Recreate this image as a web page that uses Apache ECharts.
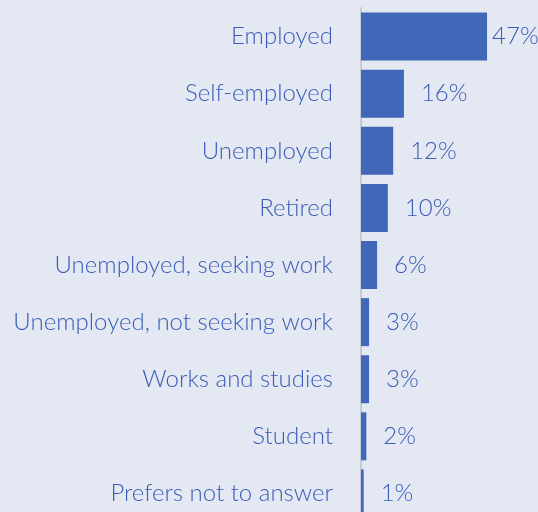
<!DOCTYPE html>
<html>
<head>
<meta charset="utf-8">
<script src="https://cdn.jsdelivr.net/npm/echarts@6/dist/echarts.min.js"></script>
<style>
  html, body { margin: 0; padding: 0; background: #e3e8f3; overflow: hidden; }
  #chart { width: 538px; height: 522px; }
</style>
</head>
<body>
<div id="chart"></div>
<script>
// Employment status categories, top to bottom
const categories = [
  'Employed',
  'Self-employed',
  'Unemployed',
  'Retired',
  'Unemployed, seeking work',
  'Unemployed, not seeking work',
  'Works and studies',
  'Student',
  'Prefers not to answer'
];
// Share of respondents (%)
const shares = [47, 16, 12, 10, 6, 3, 3, 2, 1];

const barColor = '#4167b9';
const textColor = '#3a5cb6';
const fontFamily = 'Lato, "Open Sans", sans-serif';

const chart = echarts.init(document.getElementById('chart'));
chart.setOption({
  backgroundColor: '#e3e8f3',
  animation: false,
  grid: { left: 361, right: 0, top: 8, bottom: 0, containLabel: false },
  xAxis: {
    type: 'value',
    min: 0,
    max: 66,
    show: false
  },
  yAxis: {
    type: 'category',
    data: categories,
    inverse: true,
    axisLine: { show: true, lineStyle: { color: '#c5cad3', width: 2 } },
    axisTick: { show: false },
    axisLabel: {
      color: textColor,
      fontFamily: fontFamily,
      fontWeight: 300,
      fontSize: 24,
      margin: 28
    }
  },
  series: [{
    type: 'bar',
    data: shares.map((v, i) => ({
      value: v,
      label: { distance: i === 0 ? 5 : 17 }
    })),
    barCategoryGap: '16%',
    itemStyle: { color: barColor },
    label: {
      show: true,
      position: 'right',
      color: textColor,
      fontFamily: fontFamily,
      fontWeight: 300,
      fontSize: 24,
      formatter: p => p.value + '%'
    }
  }]
});
</script>
</body>
</html>
